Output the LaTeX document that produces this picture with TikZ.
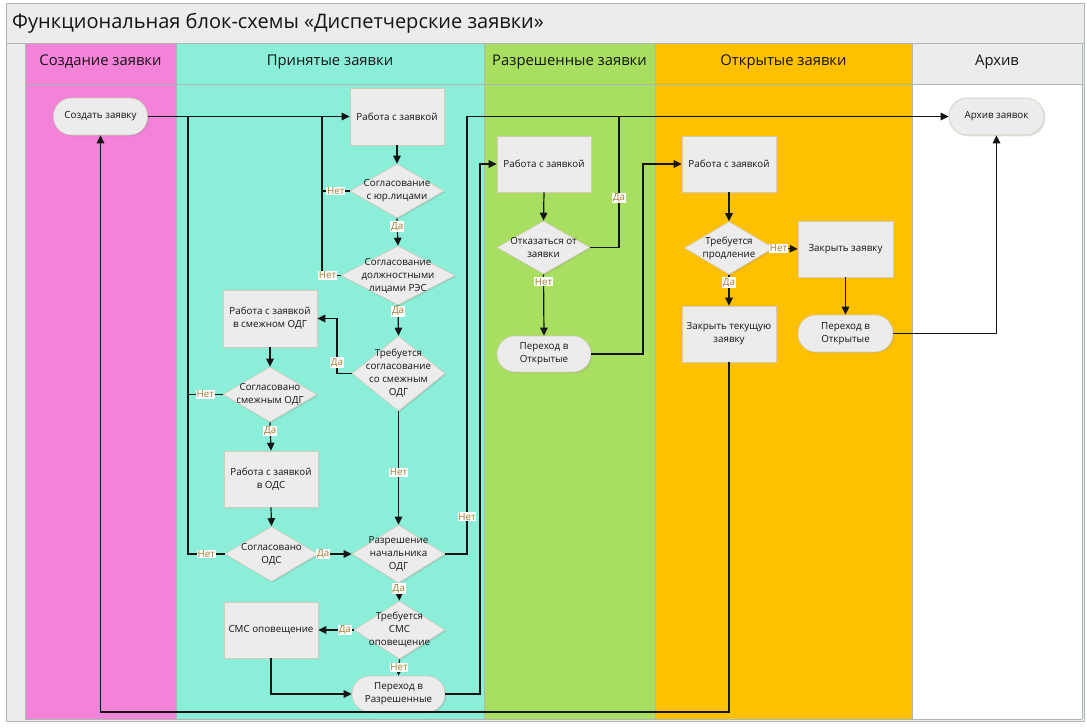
\documentclass[tikz,border=0pt]{standalone}
\usepackage{fontspec}
\setmainfont{Open Sans}
\usetikzlibrary{shapes.geometric,arrows.meta,shadows}
\definecolor{pinkc}{HTML}{F382D9}
\definecolor{turqc}{HTML}{8AEED9}
\definecolor{greenc}{HTML}{A9DF61}
\definecolor{orangec}{HTML}{FFC000}
\definecolor{framef}{HTML}{ECECEC}
\definecolor{frameb}{HTML}{AEB8B2}
\definecolor{nodef}{HTML}{ECECEC}
\definecolor{nodeb}{HTML}{D2CBB8}
\definecolor{lblc}{HTML}{A47A2E}
\definecolor{linec}{HTML}{151515}
\definecolor{txtc}{HTML}{141414}
\newcommand{\nodefont}{\fontsize{9.8}{13}\selectfont}
\newcommand{\lblfont}{\fontsize{9.8}{11}\selectfont}
\tikzset{
  base/.style={draw=nodeb, fill=nodef, line width=0.6pt, text=txtc, font=\nodefont, align=center,
    drop shadow={shadow xshift=1.3pt, shadow yshift=-1.3pt, opacity=0.22}},
  proc/.style={base, rectangle, minimum width=94pt, minimum height=56pt, inner sep=1pt},
  term/.style={base, rectangle, rounded corners=18pt, minimum width=94pt, minimum height=37pt, inner sep=1pt},
  dia/.style={base, diamond, inner sep=0pt},
  dtext/.style={label={[font=\nodefont, text=txtc, align=center]center:#1}},
  lbl/.style={fill=white, text=lblc, font=\lblfont, inner sep=0.8pt},
  arr/.style={-{Triangle[length=8pt,width=7.5pt]}},
  con/.style={line width=1.2pt, draw=linec},
  sep/.style={draw=frameb, line width=0.7pt},
  head/.style={font=\fontsize{14.8}{17}\selectfont, text=txtc}
}
\begin{document}
\begin{tikzpicture}[x=1pt,y=-1pt]
\useasboundingbox (0,0) rectangle (1087,728);
\fill[white] (0,0) rectangle (1087,728);
% frame
\draw[fill=framef, draw=frameb, line width=0.8pt] (6,3) rectangle (1084,721);
% headers
\fill[pinkc] (25,43) rectangle (176,84);
\fill[turqc] (176,43) rectangle (484,84);
\fill[greenc] (484,43) rectangle (655,84);
\fill[orangec] (655,43) rectangle (912,84);
\fill[framef] (912,43) rectangle (1082,84);
% lanes
\fill[pinkc] (25,84) rectangle (176,719);
\fill[turqc] (176,84) rectangle (484,719);
\fill[greenc] (484,84) rectangle (655,719);
\fill[orangec] (655,84) rectangle (912,719);
\fill[white] (912,84) rectangle (1082,719);
\draw[sep] (6,43) -- (1084,43);
\draw[sep] (25,84) -- (1082,84);
\foreach \xx in {25,176,484,655,912,1082} {\draw[sep] (\xx,43) -- (\xx,719);}
\draw[sep] (25,719) -- (1082,719);
% title and headers
\node[anchor=west, font=\fontsize{20}{23}\selectfont, text=txtc, inner sep=0pt] (title) at (12,23) {Функциональная блок-схемы «Диспетчерские заявки»};
\node[head] (h1) at (100.5,62) {Создание заявки};
\node[head] (h2) at (330,62) {Принятые заявки};
\node[head] (h3) at (569.5,62) {Разрешенные заявки};
\node[head] (h4) at (783.5,62) {Открытые заявки};
\node[head] (h5) at (997,62) {Архив};
% nodes
\node[term] (create) at (100.5,116.5) {Создать заявку};
\node[proc, minimum height=57pt] (p1) at (397,116.5) {Работа с заявкой};
\node[dia, minimum width=94pt, minimum height=54pt, dtext={Согласование\\с юр.лицами}] (d1) at (397,191) {};
\node[dia, minimum width=114pt, minimum height=59pt, dtext={Согласование\\должностными\\лицами РЭС}] (d2) at (398,275.5) {};
\node[proc, minimum height=57pt] (p2) at (270,318.5) {Работа с заявкой\\в смежном ОДГ};
\node[dia, minimum width=93pt, minimum height=75pt, dtext={Требуется\\согласование\\со смежным\\ОДГ}] (d3) at (398.5,373.5) {};
\node[dia, minimum width=94pt, minimum height=55pt, dtext={Согласовано\\смежным ОДГ}] (d4) at (270,394.5) {};
\node[proc] (p3) at (271,479) {Работа с заявкой\\в ОДС};
\node[dia, minimum width=93pt, minimum height=55pt, dtext={Согласовано\\ОДС}] (d5) at (271.5,554) {};
\node[dia, minimum width=93pt, minimum height=58pt, dtext={Разрешение\\начальника\\ОДГ}] (d6) at (398.5,554) {};
\node[dia, minimum width=91pt, minimum height=58pt, dtext={Требуется\\СМС\\оповещение}] (d7) at (399.5,630) {};
\node[proc] (p4) at (271,630) {СМС оповещение};
\node[term, minimum width=93pt, minimum height=36pt] (t2) at (398.5,694) {Переход в\\Разрешенные};
\node[proc] (p5) at (544,164) {Работа с заявкой};
\node[dia, minimum width=93pt, minimum height=53pt, dtext={Отказаться от\\заявки}] (d8) at (543.5,247.5) {};
\node[term, minimum height=36pt] (t3) at (544,354) {Переход в\\Открытые};
\node[proc] (p6) at (729,164) {Работа с заявкой};
\node[dia, minimum width=89pt, minimum height=53pt, dtext={Требуется\\продление}] (d9) at (729,248) {};
\node[proc, minimum width=95pt] (p7) at (845.5,249) {Закрыть заявку};
\node[proc] (p8) at (729,334) {Закрыть текущую\\заявку};
\node[term, minimum width=95pt] (t4) at (845.5,333.5) {Переход в\\Открытые};
\node[term, minimum width=95pt] (arch) at (996.5,116.5) {Архив заявок};
% junction points
\coordinate (j1) at (322,116.5);
\coordinate (j2) at (188,116.5);
\coordinate (j3) at (467,116.5);
\coordinate (j5) at (619,116.5);
\coordinate (j6) at (729,712);
\coordinate (c3) at (337,318.5);
\coordinate (j4) at (480,164);
\coordinate (j7) at (643,164);
% connectors
\draw[con,arr] (create.east) -- (p1.west);
\draw[con,arr] (p1.south) -- (d1.north);
\draw[con] (d1.west) -- node[lbl]{Нет} (d1.west -| j1) -- (j1);
\draw[con] (d2.west) -- node[lbl,pos=0.7]{Нет} (d2.west -| j1) -- (d1.west -| j1);
\draw[con,arr] (d1.south) -- node[lbl,pos=0.3]{Да} (d2.north);
\draw[con,arr] (d2.south) -- node[lbl,pos=0.2]{Да} (d3.north);
\draw[con,arr] (d3.west) -- (d3.west -| c3) -- node[lbl,pos=0.2]{Да} (c3) -- (p2.east);
\draw[con,arr] (p2.south) -- (d4.north);
\draw[con] (d4.west) -- node[lbl]{Нет} (d4.west -| j2);
\draw[con,arr] (d4.south) -- node[lbl,pos=0.3]{Да} (p3.north);
\draw[con,arr] (p3.south) -- (d5.north);
\draw[con] (d5.west) -- node[lbl]{Нет} (d5.west -| j2) -- (j2);
\draw[con,arr] (d5.east) -- node[lbl,pos=0.15]{Да} (d6.west);
\draw[con,arr] (d3.south) -- node[lbl,pos=0.54]{Нет} (d6.north);
\draw[con,arr] (d6.east) -- (d6.east -| j3) -- node[lbl,pos=0.085]{Нет} (j3) -- (arch.west);
\draw[con,arr] (d6.south) -- node[lbl,pos=0.3]{Да} (d7.north);
\draw[con,arr] (d7.west) -- node[lbl,pos=0.25]{Да} (p4.east);
\draw[con,arr] (d7.south) -- node[lbl,pos=0.5]{Нет} (t2.north);
\draw[con,arr] (p4.south) |- (t2.west);
\draw[con,arr] (t2.east) -| (j4) -- (p5.west);
\draw[con,arr] (p5.south) -- (d8.north);
\draw[con] (d8.east) -| node[lbl,pos=0.69]{Да} (j5);
\draw[con,arr] (d8.south) -- node[lbl,pos=0.12]{Нет} (t3.north);
\draw[con,arr] (t3.east) -| (j7) -- (p6.west);
\draw[con,arr] (p6.south) -- (d9.north);
\draw[con,arr] (d9.east) -- node[lbl,pos=0.2]{Нет} (p7.west);
\draw[con,arr] (d9.south) -- node[lbl,pos=0.25]{Да} (p8.north);
\draw[con,arr] (p7.south) -- (t4.north);
\draw[con,arr] (t4.east) -| (arch.south);
\draw[con,arr] (p8.south) -- (j6) -| (create.south);
\end{tikzpicture}
\end{document}
